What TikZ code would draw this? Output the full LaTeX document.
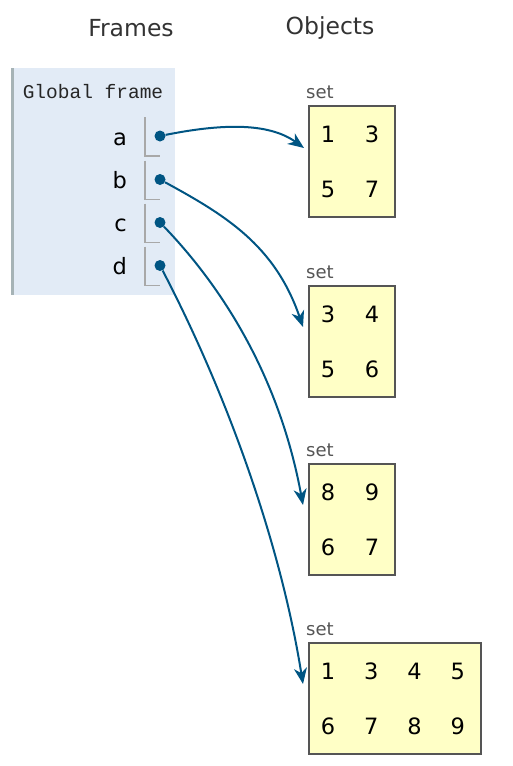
\documentclass[tikz,border=0pt]{standalone}
\usepackage{fontspec}
\setmainfont{DejaVu Sans}
\setmonofont{Liberation Mono}
\usetikzlibrary{arrows.meta}
\definecolor{framebg}{HTML}{E2EBF6}
\definecolor{framebar}{HTML}{A6B3B6}
\definecolor{ptr}{HTML}{005583}
\definecolor{setbg}{HTML}{FFFFC6}
\definecolor{setline}{HTML}{555555}
\definecolor{cellline}{HTML}{A8A8A8}
\begin{document}
\begin{tikzpicture}[x=1pt, y=-1pt,
   hdr/.style={font=\fontsize{23.5}{27}\selectfont, text=black!80},
   var/.style={font=\fontsize{22.5}{26}\selectfont, anchor=base east, inner sep=0pt},
   dot/.style={circle, fill=ptr, inner sep=0pt, minimum size=11pt},
   cell/.style={draw=cellline, line width=1.8pt},
   setlbl/.style={font=\fontsize{18}{21}\selectfont, text=setline, anchor=south west, inner sep=0pt},
   setbox/.style={draw=setline, line width=2pt, fill=setbg, anchor=north west, inner sep=0pt},
   elem/.style={font=\fontsize{22.5}{26}\selectfont},
   ref/.style={draw=ptr, line width=2pt, -{Stealth[length=16pt, width=13pt, inset=5pt]}}]
   \useasboundingbox (0,0) rectangle (513,766);
   \node[hdr] (frames) at (131,28) {Frames};
   \node[hdr] (objects) at (330,28) {Objects};
   \fill[framebg] (11,68) rectangle (175,295);
   \draw[framebar, line width=2.5pt] (12.25,68) -- (12.25,295);
   \node[font=\ttfamily\fontsize{19.5}{22}\selectfont, text=black!85] (glob) at (93,92) {Global frame};
   \foreach \v/\y in {a/136,b/179.5,c/222.5,d/265.5} {
      \draw[cell] (145,\y-19) |- (160,\y+20);
      \node[var] (\v) at (127,\y+9) {\v};
      \node[dot] (p\v) at (160,\y) {};
   }
   \foreach \s/\t/\w in {s1/105/86,s2/285/86,s3/463/86,s4/642/172} {
      \node[setbox, minimum width=\w pt, minimum height=111pt] (\s) at (308,\t) {};
      \node[setlbl] (l\s) at (306,\t-6) {set};
   }
   \foreach \s/\t/\n in {s1/105/{1,3,5,7},s2/285/{3,4,5,6},s3/463/{8,9,6,7}} {
      \foreach \e [count=\i from 0] in \n {
         \pgfmathsetmacro\cx{328+44*mod(\i,2)}
         \pgfmathsetmacro\cy{\t+29+55*int(\i/2)}
         \node[elem] (\s e\i) at (\cx,\cy) {\e};
      }
   }
   \foreach \e [count=\i from 0] in {1,3,4,5,6,7,8,9} {
      \pgfmathsetmacro\cx{328+43.3*mod(\i,4)}
      \pgfmathsetmacro\cy{642+29+55*int(\i/4)}
      \node[elem] (s4e\i) at (\cx,\cy) {\e};
   }
   \coordinate (ta) at ([shift={(-4,43)}]s1.north west);
   \coordinate (tb) at ([shift={(-5,42)}]s2.north west);
   \coordinate (tc) at ([shift={(-5,42)}]s3.north west);
   \coordinate (td) at ([shift={(-5,42)}]s4.north west);
   \draw[ref] (pa) .. controls (220,124) and (268,122) .. (ta);
   \draw[ref] (pb) .. controls (225,215) and (275,245) .. (tb);
   \draw[ref] (pc) .. controls (225,290) and (280,380) .. (tc);
   \draw[ref] (pd) .. controls (225,390) and (280,540) .. (td);
\end{tikzpicture}
\end{document}
